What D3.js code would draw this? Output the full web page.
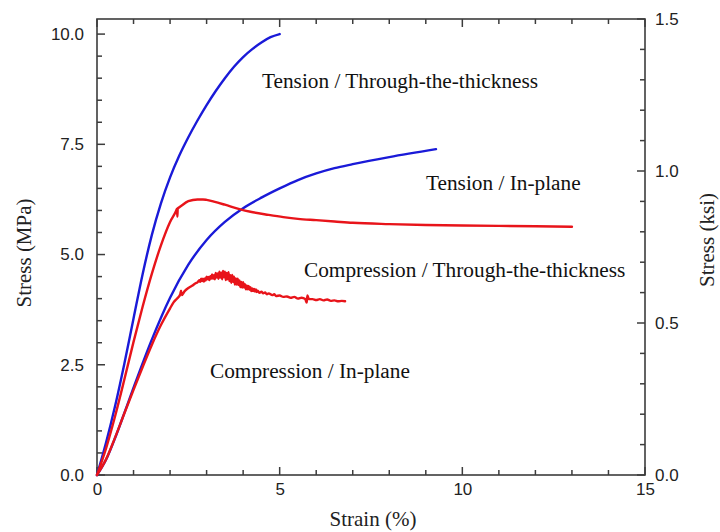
<!DOCTYPE html>
<html><head><meta charset="utf-8">
<script src="https://cdn.jsdelivr.net/npm/d3@7/dist/d3.min.js"></script>
<style>body{margin:0;background:#fff}svg{display:block}</style>
</head><body>
<svg id="chart" width="720" height="532"></svg>
<script>
// ---------- data ----------
const xMajorTicks = [0, 5, 10, 15];
const xMinorTicks = [1, 2, 3, 4, 6, 7, 8, 9, 11, 12, 13, 14];
const yMajorTicks = [0, 2.5, 5, 7.5, 10];
const yMinorTicks = [0.5, 1, 1.5, 2, 3, 3.5, 4, 4.5, 5.5, 6, 6.5, 7, 8, 8.5, 9, 9.5];
const ksiMajorTicks = [0, 0.5, 1.0, 1.5];
const ksiMinorTicks = [0.1, 0.2, 0.3, 0.4, 0.6, 0.7, 0.8, 0.9, 1.1, 1.2, 1.3, 1.4];
const xLabel = "Strain (%)";
const yLabel = "Stress (MPa)";
const y2Label = "Stress (ksi)";
const MPA_PER_KSI = 6.894757;

// Tension / Through-the-thickness (blue)
const tttStrain = [0, 0.25, 0.5, 0.75, 1.0, 1.25, 1.5, 1.75, 2.0, 2.25, 2.5, 2.75, 3.0, 3.25, 3.5, 3.75, 4.0, 4.25, 4.5, 4.75, 5.0];
const tttStress = [0, 0.74, 1.58, 2.53, 3.55, 4.56, 5.44, 6.16, 6.75, 7.24, 7.66, 8.04, 8.39, 8.71, 9.00, 9.26, 9.48, 9.66, 9.81, 9.93, 10.0];

// Tension / In-plane (blue)
const tipStrain = [0, 0.25, 0.5, 0.75, 1.0, 1.5, 2.0, 2.5, 3.0, 3.5, 4.0, 4.5, 5.0, 5.5, 6.0, 6.5, 7.0, 8.0, 9.28];
const tipStress = [0, 0.35, 0.85, 1.41, 1.98, 3.07, 4.02, 4.77, 5.33, 5.74, 6.05, 6.29, 6.50, 6.69, 6.84, 6.96, 7.05, 7.21, 7.39];

// Compression / Through-the-thickness (red)
const cttStrain = [0, 0.25, 0.5, 0.75, 1.0, 1.25, 1.5, 1.75, 2.0, 2.17, 2.19, 2.20, 2.21, 2.25, 2.5, 2.75, 2.9, 3.0, 3.2, 3.5, 3.9, 4.2, 4.7, 5.1, 5.5, 6.0, 6.5, 7.0, 8.0, 9.0, 10.0, 11.0, 12.0, 13.0];
const cttStress = [0, 0.61, 1.35, 2.17, 3.02, 3.82, 4.56, 5.21, 5.74, 6.00, 6.04, 5.86, 6.05, 6.07, 6.21, 6.25, 6.25, 6.24, 6.20, 6.13, 6.03, 5.97, 5.90, 5.85, 5.81, 5.78, 5.75, 5.72, 5.69, 5.67, 5.66, 5.65, 5.64, 5.63];

// Compression / In-plane (red, noisy record)
const cipStrain = [0, 0.25, 0.5, 0.75, 1.0, 1.25, 1.5, 1.75, 2.0, 2.1, 2.2, 2.28, 2.30, 2.32, 2.4, 2.5, 2.6, 2.7, 2.75,
  2.800, 2.825, 2.850, 2.875, 2.900, 2.925, 2.950, 2.975, 3.000, 3.025, 3.050, 3.075, 3.100, 3.125, 3.150, 3.175,
  3.200, 3.225, 3.250, 3.275, 3.300, 3.325, 3.350, 3.375, 3.400, 3.425, 3.450, 3.475, 3.500, 3.525, 3.550, 3.575,
  3.600, 3.625, 3.650, 3.675, 3.700, 3.725, 3.750, 3.775, 3.800, 3.825, 3.850, 3.875, 3.900, 3.925, 3.950, 3.975,
  4.000, 4.025, 4.050, 4.075, 4.100, 4.125, 4.150, 4.175, 4.200, 4.225, 4.250, 4.275, 4.300, 4.325, 4.350, 4.375, 4.400,
  4.45, 4.50, 4.55, 4.60, 4.65, 4.70, 4.80, 4.85, 4.90, 5.00, 5.10, 5.20, 5.30, 5.40, 5.50, 5.60, 5.70, 5.74, 5.76, 5.80,
  5.90, 6.00, 6.10, 6.20, 6.30, 6.40, 6.50, 6.60, 6.70, 6.79];
const cipStress = [0, 0.36, 0.86, 1.40, 1.93, 2.45, 2.95, 3.40, 3.78, 3.92, 4.01, 4.10, 4.18, 4.08, 4.17, 4.24, 4.29, 4.35, 4.37,
  4.42, 4.38, 4.45, 4.40, 4.45, 4.39, 4.46, 4.41, 4.50, 4.44, 4.49, 4.42, 4.51, 4.45, 4.55, 4.45,
  4.53, 4.44, 4.58, 4.48, 4.57, 4.45, 4.61, 4.48, 4.59, 4.44, 4.63, 4.49, 4.61, 4.42, 4.58, 4.44,
  4.60, 4.40, 4.53, 4.36, 4.54, 4.38, 4.50, 4.32, 4.46, 4.32, 4.45, 4.31, 4.41, 4.26, 4.38, 4.25,
  4.37, 4.25, 4.33, 4.21, 4.30, 4.21, 4.29, 4.20, 4.26, 4.17, 4.23, 4.17, 4.22, 4.16, 4.21, 4.15, 4.18,
  4.13, 4.16, 4.12, 4.14, 4.10, 4.12, 4.08, 4.10, 4.06, 4.07, 4.04, 4.05, 4.02, 4.04, 4.00, 4.02, 3.99, 3.91, 4.07, 3.99,
  3.99, 3.97, 3.99, 3.96, 3.98, 3.95, 3.96, 3.94, 3.95, 3.94];

const series = [
  {name: "Tension / Through-the-thickness", strain: tttStrain, stress: tttStress, color: "#1a1ad8"},
  {name: "Tension / In-plane", strain: tipStrain, stress: tipStress, color: "#1a1ad8"},
  {name: "Compression / Through-the-thickness", strain: cttStrain, stress: cttStress, color: "#e8141a"},
  {name: "Compression / In-plane", strain: cipStrain, stress: cipStress, color: "#e8141a"}
];

// ---------- layout ----------
const W = 720, H = 532;
const margin = {left: 97, right: 75, top: 19, bottom: 57};
const svg = d3.select("#chart");
svg.append("rect").attr("width", W).attr("height", H).attr("fill", "#fff");

const x = d3.scaleLinear().domain([0, 15]).range([margin.left, W - margin.right]);
const y = d3.scaleLinear().domain([0, 1.5 * MPA_PER_KSI]).range([H - margin.bottom, margin.top]);
const y2 = d3.scaleLinear().domain([0, 1.5]).range([H - margin.bottom, margin.top]);

const axisColor = "#3c3c3c";
const tickFont = "'Liberation Sans', Arial, Helvetica, sans-serif";
const serifFont = "'Liberation Serif', 'Times New Roman', serif";

const pBottom = H - margin.bottom, pTop = margin.top, pLeft = margin.left, pRight = W - margin.right;
const MAJOR = 8, MINOR = 5;

// tick marks (all pointing into the plot)
const tickG = svg.append("g").attr("stroke", axisColor).attr("stroke-width", 1.5);
function xTicks(vals, len) {
  vals.forEach(v => {
    tickG.append("line").attr("x1", x(v)).attr("x2", x(v)).attr("y1", pBottom).attr("y2", pBottom - len);
    tickG.append("line").attr("x1", x(v)).attr("x2", x(v)).attr("y1", pTop).attr("y2", pTop + len);
  });
}
xTicks(xMajorTicks, MAJOR);
xTicks(xMinorTicks, MINOR);
yMajorTicks.forEach(v => tickG.append("line").attr("x1", pLeft).attr("x2", pLeft + MAJOR).attr("y1", y(v)).attr("y2", y(v)));
yMinorTicks.forEach(v => tickG.append("line").attr("x1", pLeft).attr("x2", pLeft + MINOR).attr("y1", y(v)).attr("y2", y(v)));
ksiMajorTicks.forEach(v => tickG.append("line").attr("x1", pRight).attr("x2", pRight - MAJOR).attr("y1", y2(v)).attr("y2", y2(v)));
ksiMinorTicks.forEach(v => tickG.append("line").attr("x1", pRight).attr("x2", pRight - MINOR).attr("y1", y2(v)).attr("y2", y2(v)));

// tick labels via d3 axes (tick lines hidden, labels only)
function labelsOnly(g) {
  g.select(".domain").remove();
  g.selectAll(".tick line").remove();
  g.selectAll(".tick text").attr("fill", "#222").attr("font-family", tickFont).attr("font-size", 17);
}
svg.append("g").attr("transform", `translate(0,${pBottom})`)
  .call(d3.axisBottom(x).tickValues(xMajorTicks).tickSize(0).tickPadding(8).tickFormat(d3.format("d")))
  .call(labelsOnly);
svg.append("g").attr("transform", `translate(${pLeft},0)`)
  .call(d3.axisLeft(y).tickValues(yMajorTicks).tickSize(0).tickPadding(13).tickFormat(d3.format(".1f")))
  .call(labelsOnly);
svg.append("g").attr("transform", `translate(${pRight},0)`)
  .call(d3.axisRight(y2).tickValues(ksiMajorTicks).tickSize(0).tickPadding(10).tickFormat(d3.format(".1f")))
  .call(labelsOnly);

// frame
svg.append("rect").attr("x", pLeft).attr("y", pTop).attr("width", pRight - pLeft).attr("height", pBottom - pTop)
  .attr("fill", "none").attr("stroke", axisColor).attr("stroke-width", 1.6);

// curves
const line = d3.line().x(d => x(d[0])).y(d => y(d[1])).curve(d3.curveMonotoneX);
series.forEach(s => {
  const pts = s.strain.map((v, i) => [v, s.stress[i]]);
  svg.append("path").datum(pts).attr("d", line)
    .attr("fill", "none").attr("stroke", s.color).attr("stroke-width", 2.4)
    .attr("stroke-linejoin", "round").attr("stroke-linecap", "round");
});

// annotations
const annPos = [[262, 88], [426, 190], [304, 277], [210, 378]];
series.forEach((s, i) => {
  svg.append("text").attr("x", annPos[i][0]).attr("y", annPos[i][1])
    .attr("font-family", serifFont).attr("font-size", 21.3).attr("fill", "#111").text(s.name);
});

// axis titles
svg.append("text").attr("x", 373).attr("y", 526).attr("text-anchor", "middle")
  .attr("font-family", serifFont).attr("font-size", 21).attr("fill", "#222").text(xLabel);
svg.append("text").attr("transform", `translate(31,253) rotate(-90)`).attr("text-anchor", "middle")
  .attr("font-family", serifFont).attr("font-size", 21).attr("fill", "#222").text(yLabel);
svg.append("text").attr("transform", `translate(714,240) rotate(-90)`).attr("text-anchor", "middle")
  .attr("font-family", serifFont).attr("font-size", 21).attr("fill", "#222").text(y2Label);
</script>
</body></html>
